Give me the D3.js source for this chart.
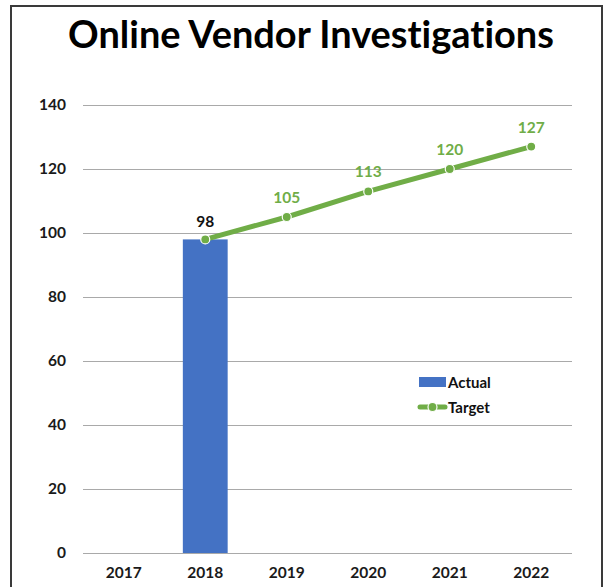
<!DOCTYPE html>
<html>
<head>
<meta charset="utf-8">
<script src="https://cdn.jsdelivr.net/npm/d3@7"></script>
<style>
  body { margin: 0; background: #fff; }
  svg { display: block; font-family: Lato, "Open Sans", sans-serif; font-variant-ligatures: none; }
</style>
</head>
<body>
<svg id="chart"></svg>
<script>
const years = ['2017', '2018', '2019', '2020', '2021', '2022'];
const actual = [null, 98, null, null, null, null];
const target = [null, 98, 105, 113, 120, 127];
const yTicks = [0, 20, 40, 60, 80, 100, 120, 140];

const width = 605, height = 587;
const margin = { top: 105, right: 33, bottom: 34, left: 83 };

const svg = d3.select('#chart')
    .attr('width', width)
    .attr('height', height);

// frame
svg.append('rect')
    .attr('x', 11)
    .attr('y', 6)
    .attr('width', 591)
    .attr('height', 600)
    .attr('fill', 'none')
    .attr('stroke', '#3a3a3a')
    .attr('stroke-width', 2);

const title = svg.append('text')
    .attr('x', 311)
    .attr('y', 48)
    .attr('text-anchor', 'middle')
    .attr('font-size', 34)
    .attr('font-weight', 700)
    .attr('fill', '#000')
    .text('Online Vendor Investigations');
// fit title to the width it has in the original
const tw = title.node().getComputedTextLength();
title.attr('font-size', 34 * 486 / tw);

const xScale = d3.scaleBand()
    .domain(years)
    .range([margin.left, width - margin.right])
    .paddingInner(0.45)
    .paddingOuter(0.225);

const yScale = d3.scaleLinear()
    .domain([0, 140])
    .range([height - margin.bottom, margin.top]);

const center = (d) => xScale(d) + xScale.bandwidth() / 2;

// gridlines + y labels
const yAxis = d3.axisLeft(yScale)
    .tickValues(yTicks)
    .tickSize(-(width - margin.right - margin.left))
    .tickPadding(17);
svg.append('g')
    .attr('transform', 'translate(' + margin.left + ', 0)')
    .call(yAxis)
    .call(g => g.select('.domain').remove())
    .call(g => g.selectAll('line').attr('stroke', '#a9a9a9').attr('stroke-width', 1.2))
    .call(g => g.selectAll('text')
        .attr('font-family', 'Lato, sans-serif')
        .attr('font-size', 15.5)
        .attr('font-weight', 700)
        .attr('fill', '#1a1a1a'));

// x labels
const xAxis = d3.axisBottom(xScale).tickSize(0).tickPadding(14);
svg.append('g')
    .attr('transform', 'translate(0, ' + (height - margin.bottom) + ')')
    .call(xAxis)
    .call(g => g.select('.domain').remove())
    .call(g => g.selectAll('text')
        .attr('font-family', 'Lato, sans-serif')
        .attr('font-size', 15.5)
        .attr('font-weight', 700)
        .attr('fill', '#1a1a1a'));

// bars
const actualData = years.map((y, i) => ({ year: y, value: actual[i] })).filter(d => d.value != null);
svg.append('g')
    .selectAll('rect')
    .data(actualData)
    .enter()
    .append('rect')
    .attr('x', d => xScale(d.year))
    .attr('width', xScale.bandwidth())
    .attr('y', d => yScale(d.value))
    .attr('height', d => yScale(0) - yScale(d.value))
    .attr('fill', '#4472c4');

svg.append('g')
    .selectAll('text')
    .data(actualData)
    .enter()
    .append('text')
    .attr('x', d => center(d.year))
    .attr('y', d => yScale(d.value) - 12)
    .attr('text-anchor', 'middle')
    .attr('font-size', 15.5)
    .attr('font-weight', 700)
    .attr('fill', '#111')
    .text(d => d.value);

// target line
const targetData = years.map((y, i) => ({ year: y, value: target[i] })).filter(d => d.value != null);
const line = d3.line()
    .x(d => center(d.year))
    .y(d => yScale(d.value));

svg.append('path')
    .datum(targetData)
    .attr('d', line)
    .attr('fill', 'none')
    .attr('stroke', '#70ad47')
    .attr('stroke-width', 5)
    .attr('stroke-linecap', 'round');

svg.append('g')
    .selectAll('circle')
    .data(targetData)
    .enter()
    .append('circle')
    .attr('cx', d => center(d.year))
    .attr('cy', d => yScale(d.value))
    .attr('r', 4.5)
    .attr('fill', '#70ad47')
    .attr('stroke', '#fff')
    .attr('stroke-width', 1.2);

svg.append('g')
    .selectAll('text')
    .data(targetData.slice(1))
    .enter()
    .append('text')
    .attr('x', d => center(d.year))
    .attr('y', d => yScale(d.value) - 14)
    .attr('text-anchor', 'middle')
    .attr('font-size', 15.5)
    .attr('font-weight', 700)
    .attr('fill', '#70ad47')
    .text(d => d.value);

// legend
const legend = svg.append('g').attr('transform', 'translate(419, 377)');
legend.append('rect')
    .attr('x', 0)
    .attr('y', 0)
    .attr('width', 27)
    .attr('height', 10)
    .attr('fill', '#4472c4');
legend.append('text')
    .attr('x', 29)
    .attr('y', 10.5)
    .attr('font-size', 15)
    .attr('font-weight', 700)
    .attr('fill', '#111')
    .text('Actual');
legend.append('line')
    .attr('x1', 1).attr('x2', 26)
    .attr('y1', 30).attr('y2', 30)
    .attr('stroke', '#70ad47')
    .attr('stroke-width', 5)
    .attr('stroke-linecap', 'round');
legend.append('circle')
    .attr('cx', 13.5)
    .attr('cy', 30)
    .attr('r', 4.5)
    .attr('fill', '#70ad47')
    .attr('stroke', '#fff')
    .attr('stroke-width', 1.2);
legend.append('text')
    .attr('x', 29)
    .attr('y', 35.5)
    .attr('font-size', 15)
    .attr('font-weight', 700)
    .attr('fill', '#111')
    .text('Target');
</script>
</body>
</html>
